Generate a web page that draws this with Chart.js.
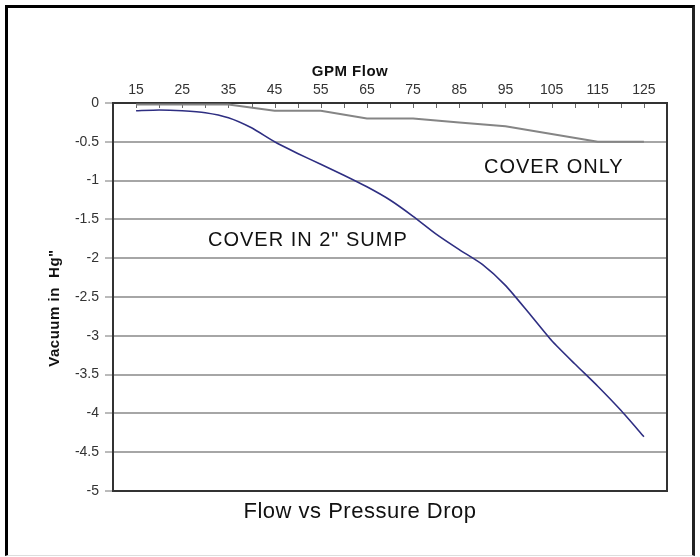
<!DOCTYPE html>
<html>
<head>
<meta charset="utf-8">
<script src="https://cdn.jsdelivr.net/npm/chart.js@4.4.1/dist/chart.umd.min.js"></script>
<style>
  html,body{margin:0;padding:0;background:#fff;}
  #wrap{position:relative;width:700px;height:557px;}
  #frame{position:absolute;left:5px;top:5px;width:690px;height:551px;
    border-left:3px solid #000;border-top:3px solid #000;border-right:3px solid #222;border-bottom:1px solid #ddd;
    box-sizing:border-box;pointer-events:none;}
  canvas{position:absolute;left:0;top:0;}
</style>
</head>
<body>
<div id="wrap">
  <canvas id="c" width="700" height="557"></canvas>
  <div id="frame"></div>
</div>
<script>
// ---- data ----
const sumpFlow = [15,20,25,30,35,40,45,50,55,60,65,70,75,80,85,90,95,100,105,110,115,120,125];
const sumpVacuum = [-0.1,-0.09,-0.1,-0.125,-0.19,-0.32,-0.5,-0.65,-0.79,-0.93,-1.08,-1.25,-1.46,-1.69,-1.89,-2.08,-2.35,-2.7,-3.06,-3.36,-3.65,-3.96,-4.3];
const coverFlow = [15,25,35,45,55,65,75,85,95,105,115,125];
const coverVacuum = [-0.02,-0.02,-0.02,-0.1,-0.1,-0.2,-0.2,-0.25,-0.3,-0.4,-0.5,-0.5];
const xLabelValues = [15,25,35,45,55,65,75,85,95,105,115,125];
const seriesNames = ['COVER IN 2" SUMP','COVER ONLY'];
const xTitle = 'GPM Flow';
const yTitle = 'Vacuum in  Hg"';
const chartTitle = 'Flow vs Pressure Drop';

const FONT = '"Liberation Sans", Arial, Helvetica, sans-serif';
Chart.defaults.font.family = FONT;

const toPts = (xs, ys) => xs.map((x,i)=>({x, y: ys[i]}));

const deco = {
  id: 'deco',
  beforeDatasetsDraw(chart){
    const {ctx, chartArea:a, scales:{x}} = chart;
    ctx.save();
    ctx.strokeStyle = '#666'; ctx.lineWidth = 1;
    x.ticks.forEach(t=>{
      const px = Math.round(x.getPixelForValue(t.value)) + 0.5;
      ctx.beginPath(); ctx.moveTo(px, a.top); ctx.lineTo(px, a.top + 5); ctx.stroke();
    });
    ctx.strokeStyle = '#333'; ctx.lineWidth = 2;
    ctx.strokeRect(a.left, a.top, a.right - a.left, a.bottom - a.top);
    ctx.restore();
  },
  afterDatasetsDraw(chart){
    const {ctx} = chart;
    ctx.save();
    ctx.fillStyle = '#111';
    ctx.textAlign = 'center'; ctx.textBaseline = 'middle';
    ctx.letterSpacing = '0.5px';
    ctx.font = 'bold 15px ' + FONT;
    ctx.fillText(xTitle, 350, 72);
    ctx.font = '22px ' + FONT;
    ctx.fillText(chartTitle, 360, 512);
    ctx.textAlign = 'left'; ctx.textBaseline = 'alphabetic';
    ctx.letterSpacing = '1px';
    ctx.font = '20px ' + FONT;
    ctx.fillText(seriesNames[1], 484, 173);
    ctx.fillText(seriesNames[0], 208, 246);
    ctx.letterSpacing = '0.5px';
    ctx.translate(55, 308); ctx.rotate(-Math.PI/2);
    ctx.textAlign = 'center'; ctx.textBaseline = 'middle';
    ctx.font = 'bold 15px ' + FONT;
    ctx.fillText(yTitle, 0, 0);
    ctx.restore();
  }
};

new Chart(document.getElementById('c'), {
  type: 'line',
  data: {
    datasets: [
      { label: seriesNames[1], data: toPts(coverFlow, coverVacuum), borderColor: '#858585', borderWidth: 2, pointRadius: 0, tension: 0, clip: 4 },
      { label: seriesNames[0], data: toPts(sumpFlow, sumpVacuum), borderColor: '#2e2e82', borderWidth: 1.6, pointRadius: 0, tension: 0.2, clip: 4 }
    ]
  },
  options: {
    responsive: false,
    animation: false,
    events: [],
    layout: { padding: { left: 53, right: 33, top: 58, bottom: 66 } },
    plugins: { legend: { display: false }, tooltip: { enabled: false }, title: { display: false } },
    scales: {
      x: {
        type: 'linear', position: 'top', min: 10, max: 130,
        afterFit: s => { s.height = 45; },
        afterBuildTicks: s => { s.ticks = []; for (let v = 10; v <= 130; v += 5) s.ticks.push({value: v}); },
        grid: { display: false, drawTicks: false },
        border: { display: false },
        ticks: {
          autoSkip: false, maxRotation: 0, padding: 4, color: '#333',
          font: { size: 14 },
          callback: v => xLabelValues.includes(v) ? String(v) : ''
        }
      },
      y: {
        type: 'linear', min: -5, max: 0,
        afterFit: s => { s.width = 60; },
        ticks: { stepSize: 0.5, padding: 6, color: '#333', font: { size: 14 }, callback: v => String(Math.round(v * 10) / 10) },
        grid: { color: '#a6a6a6', lineWidth: 2, tickLength: 8, tickColor: '#777', tickWidth: 1 },
        border: { display: false }
      }
    }
  },
  plugins: [deco]
});
</script>
</body>
</html>
